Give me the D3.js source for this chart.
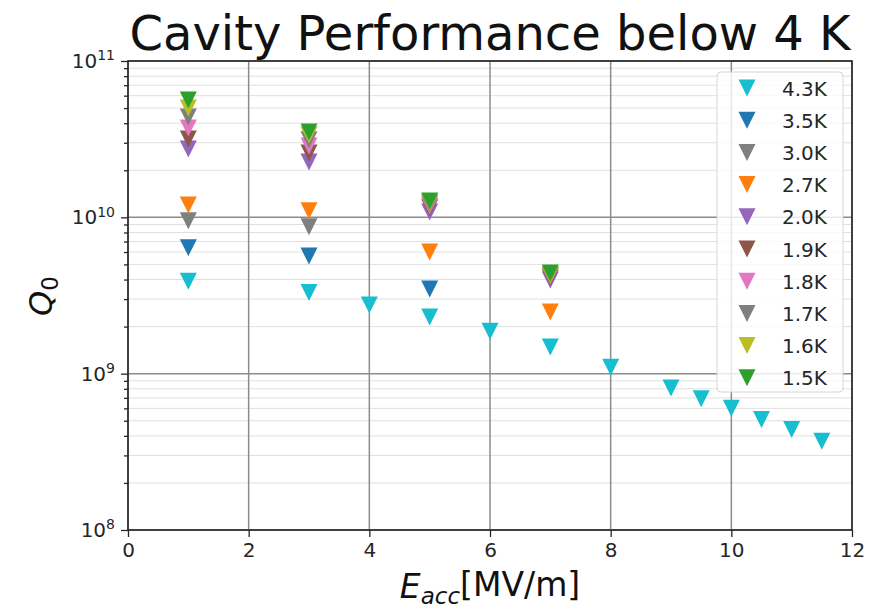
<!DOCTYPE html>
<html>
<head>
<meta charset="utf-8">
<script src="https://cdn.jsdelivr.net/npm/d3@7"></script>
<style>
  html, body { margin: 0; padding: 0; background: #fff; }
  svg { display: block; font-family: "DejaVu Sans", sans-serif; }
</style>
</head>
<body>
<svg id="chart" width="877" height="610"></svg>
<script>
// ---- data ----
const seriesNames = ["4.3K", "3.5K", "3.0K", "2.7K", "2.0K", "1.9K", "1.8K", "1.7K", "1.6K", "1.5K"];
const seriesColors = ["#17becf", "#1f77b4", "#7f7f7f", "#ff7f0e", "#9467bd", "#8c564b", "#e377c2", "#7f7f7f", "#bcbd22", "#2ca02c"];

const x43 = [1, 3, 4, 5, 6, 7, 8, 9, 9.5, 10, 10.5, 11, 11.5];
const q43 = [3.9e9, 3.3e9, 2.75e9, 2.3e9, 1.87e9, 1.48e9, 1.1e9, 8.1e8, 6.9e8, 6.0e8, 5.1e8, 4.4e8, 3.7e8];
const x35 = [1, 3, 5];
const q35 = [6.4e9, 5.65e9, 3.48e9];
const x30 = [1, 3];
const q30 = [9.5e9, 8.7e9];
const x27 = [1, 3, 5, 7];
const q27 = [1.2e10, 1.1e10, 6.0e9, 2.48e9];
const x20 = [1, 3, 5, 7];
const q20 = [2.74e10, 2.26e10, 1.08e10, 3.97e9];
const x19 = [1, 3, 5, 7];
const q19 = [3.17e10, 2.58e10, 1.15e10, 4.1e9];
const x18 = [1, 3, 5, 7];
const q18 = [3.73e10, 2.86e10, 1.18e10, 4.2e9];
const x17 = [1, 3, 5, 7];
const q17 = [4.38e10, 3.13e10, 1.22e10, 4.25e9];
const x16 = [1, 3, 5, 7];
const q16 = [5.0e10, 3.36e10, 1.25e10, 4.3e9];
const x15 = [1, 3, 5, 7];
const q15 = [5.63e10, 3.52e10, 1.27e10, 4.4e9];

const seriesX = [x43, x35, x30, x27, x20, x19, x18, x17, x16, x15];
const seriesQ = [q43, q35, q30, q27, q20, q19, q18, q17, q16, q15];

const xTicks = [0, 2, 4, 6, 8, 10, 12];
const yTicks = [1e8, 1e9, 1e10, 1e11];

const titleText = "Cavity Performance below 4 K";

// ---- layout ----
const svg = d3.select("#chart");
const L = 128, R = 852, T = 61, B = 530;
const x = d3.scaleLinear().domain([0, 12]).range([L, R]);
const y = d3.scaleLog().domain([1e8, 1e11]).range([B, T]);

const yMinor = [];
for (let e = 8; e < 11; e++) for (let m = 2; m <= 9; m++) yMinor.push(m * Math.pow(10, e));

// minor grid
svg.append("g").selectAll("line").data(yMinor).join("line")
  .attr("x1", L).attr("x2", R)
  .attr("y1", d => y(d)).attr("y2", d => y(d))
  .attr("stroke", "#e0e0e0").attr("stroke-width", 1);

// major grid
svg.append("g").selectAll("line").data(yTicks).join("line")
  .attr("x1", L).attr("x2", R)
  .attr("y1", d => y(d)).attr("y2", d => y(d))
  .attr("stroke", "#8c8c8c").attr("stroke-width", 1.5);
svg.append("g").selectAll("line").data(xTicks).join("line")
  .attr("x1", d => x(d)).attr("x2", d => x(d))
  .attr("y1", T).attr("y2", B)
  .attr("stroke", "#8c8c8c").attr("stroke-width", 1.5);

// markers
const S = 17;
const tri = (cx, cy) => `M${cx},${cy + S / 2}L${cx - S / 2},${cy - S / 2}L${cx + S / 2},${cy - S / 2}Z`;
seriesNames.forEach((name, i) => {
  const pts = seriesX[i].map((xv, j) => [xv, seriesQ[i][j]]);
  svg.append("g").selectAll("path").data(pts).join("path")
    .attr("d", d => tri(x(d[0]), y(d[1])))
    .attr("fill", seriesColors[i]);
});

// axes
const xAxis = svg.append("g").attr("transform", `translate(0,${B})`)
  .call(d3.axisBottom(x).tickValues(xTicks).tickSize(7).tickPadding(6).tickFormat(d3.format("d")));
const yAxisMinor = svg.append("g").attr("transform", `translate(${L},0)`)
  .call(d3.axisLeft(y).tickValues(yMinor).tickSize(4).tickFormat(""));
const yAxis = svg.append("g").attr("transform", `translate(${L},0)`)
  .call(d3.axisLeft(y).tickValues(yTicks).tickSize(7).tickPadding(6).tickFormat(d => "10"));
yAxis.selectAll(".tick text").each(function (d) {
  const t = d3.select(this);
  t.text(null);
  t.append("tspan").text("10");
  t.append("tspan").attr("dy", "-0.55em").text(Math.round(Math.log10(d)));
});
[xAxis, yAxis, yAxisMinor].forEach(g => {
  g.selectAll("text").attr("font-size", 20).attr("font-family", "DejaVu Sans").attr("fill", "#262626");
  g.selectAll("line").attr("stroke", "#262626").attr("stroke-width", 1.3);
  g.select(".domain").remove();
});
yAxis.selectAll(".tick text tspan:last-child").attr("font-size", 14);

// frame
svg.append("rect").attr("x", L).attr("y", T).attr("width", R - L).attr("height", B - T)
  .attr("fill", "none").attr("stroke", "#262626").attr("stroke-width", 1.6);

// legend
const lg = svg.append("g");
lg.append("rect").attr("x", 717).attr("y", 72).attr("width", 126).attr("height", 320)
  .attr("rx", 4).attr("fill", "#fff").attr("fill-opacity", 0.8)
  .attr("stroke", "#d6d6d6").attr("stroke-width", 1);
seriesNames.forEach((name, i) => {
  const cy = 88 + i * 32.2;
  lg.append("path").attr("d", tri(747, cy)).attr("fill", seriesColors[i]);
  lg.append("text").attr("x", 782).attr("y", cy + 7.5)
    .attr("font-size", 20).attr("fill", "#262626").text(name);
});

// title
svg.append("text").attr("x", (L + R) / 2).attr("y", 50).attr("text-anchor", "middle")
  .attr("font-size", 48).attr("fill", "#111").text(titleText);

// y label
const yl = svg.append("text").attr("transform", "translate(52,296) rotate(-90)")
  .attr("text-anchor", "middle").attr("font-size", 32).attr("fill", "#111");
yl.append("tspan").attr("font-style", "italic").text("Q");
yl.append("tspan").attr("dy", "0.25em").attr("font-size", 23).text("0");

// x label
const xl = svg.append("text").attr("x", (L + R) / 2).attr("y", 598).attr("text-anchor", "middle")
  .attr("font-size", 33).attr("fill", "#111");
xl.append("tspan").attr("font-style", "italic").text("E");
xl.append("tspan").attr("font-style", "italic").attr("font-size", 23).attr("dy", "0.25em").text("acc");
xl.append("tspan").attr("dy", "-0.25em").text("[MV/m]");
</script>
</body>
</html>
